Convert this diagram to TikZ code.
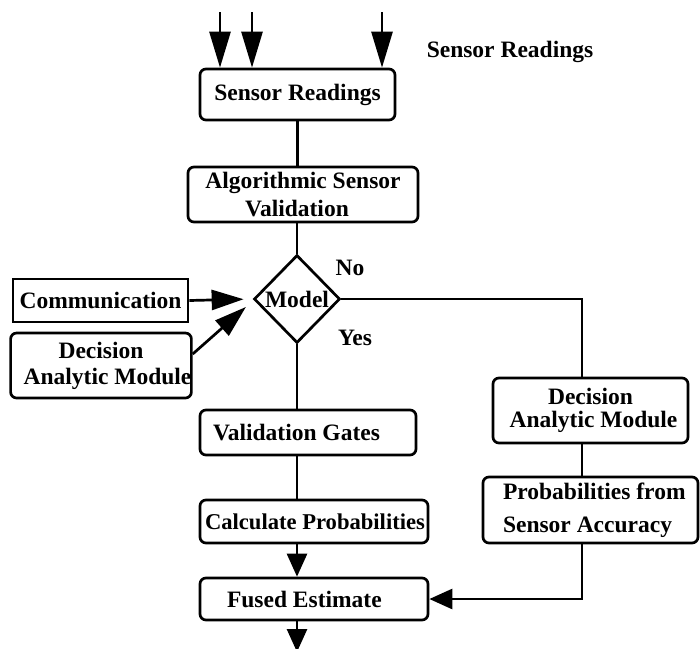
\documentclass[tikz,border=0pt]{standalone}
\usepackage{fontspec}
\setmainfont{Liberation Serif}
\usetikzlibrary{arrows.meta,shapes.geometric}

% a line of text of fixed width, set flush left
\newcommand{\flushline}[2]{\makebox[#1][l]{#2}}

\begin{document}
\begin{tikzpicture}[x=1pt,y=-1pt,
  every node/.style={font=\fontsize{23.5}{26}\selectfont\bfseries},
  stroke/.style={line width=2.7pt},
  box/.style={stroke, draw, rectangle, rounded corners=6pt, inner sep=0pt, align=center},
  sqbox/.style={stroke, draw, rectangle, inner sep=0pt, align=center},
  leftbox/.style={stroke, draw, rectangle, rounded corners=6pt, inner ysep=0pt, align=left},
  decision/.style={stroke, draw, diamond, inner sep=0pt, text height=16pt, text depth=0pt},
  bigarrow/.style={stroke, -{Triangle[length=36pt,width=21pt]}},
  midarrow/.style={stroke, -{Triangle[length=32pt,width=20pt]}},
  smallarrow/.style={stroke, -{Triangle[length=23pt,width=20pt]}},
  link/.style={stroke}
]
\useasboundingbox (0,0) rectangle (700,648);

% main column
\node[box, minimum width=195pt, minimum height=51pt] (sr) at (297.5,94.5) {Sensor Readings};
\node[box, minimum width=230pt, minimum height=55pt] (asv) at (303,194.5) {Algorithmic Sensor\\[2pt]\hspace*{-12pt}Validation};
\node[decision, minimum width=86pt, minimum height=88pt] (model) at (297,299) {Model};
\node[leftbox, minimum height=45pt, inner xsep=13pt] (vg) at (308,432.5) {\flushline{190pt}{Validation Gates}};
\node[leftbox, minimum height=43pt, inner xsep=5pt, font=\fontsize{22.6}{26}\selectfont\bfseries] (cp) at (314,521.5) {\flushline{218pt}{Calculate Probabilities}};
\node[leftbox, minimum height=42pt, inner xsep=27pt] (fe) at (314,599) {\flushline{174pt}{Fused Estimate}};

% inputs on the left
\node[sqbox, minimum width=175pt, minimum height=43pt] (comm) at (100.5,300.5) {Communication};
\node[box, minimum width=174pt, minimum height=65pt] (daml) at (101,365.5) {Decision\\\hspace*{13pt}Analytic Module};

% branch on the right
\node[box, minimum width=195pt, minimum height=65pt] (damr) at (590.5,410.5) {Decision\\[-3pt]\hspace*{6pt}Analytic Module};
\node[leftbox, minimum height=66pt, inner xsep=20pt] (psa) at (590.5,510)
  {\flushline{175pt}{Probabilities from}\\[7pt]\flushline{175pt}{Sensor Accuracy}};

% labels
\node (srlabel) at (510,52) {Sensor Readings};
\node (no) at (350,268) {No};
\node (yes) at (355,338) {Yes};

% free ends and the right-hand trunk
\coordinate (in1) at (220,12);
\coordinate (in2) at (252,12);
\coordinate (in3) at (382,12);
\coordinate (out) at (297,652);
\coordinate (rx) at (582,0);

% incoming readings
\draw[bigarrow] (in1) -- (in1 |- sr.north);
\draw[bigarrow] (in2) -- (in2 |- sr.north);
\draw[bigarrow] (in3) -- (in3 |- sr.north);

% main flow
\draw[link] (sr.south) -- (sr.south |- asv.north);
\draw[link] (model.north |- asv.south) -- (model.north);
\draw[link] (model.south) -- (model.south |- vg.north);
\draw[link] (model.south |- vg.south) -- (model.south |- cp.north);
\draw[smallarrow] (model.south |- cp.south) -- (model.south |- fe.north);
\draw[smallarrow] (model.south |- fe.south) -- (out);

% side inputs to the model
\draw[midarrow, shorten >=9pt] (comm.east) -- (model.west);
\draw[midarrow, shorten >=9pt] ([yshift=11.5pt]daml.east) -- ([yshift=-2pt]model.west);

% "No" branch
\draw[link] (model.east) -| (rx |- damr.north);
\draw[link] (rx |- damr.south) -- (rx |- psa.north);
\draw[smallarrow] (rx |- psa.south) |- (fe.east);
\end{tikzpicture}
\end{document}
